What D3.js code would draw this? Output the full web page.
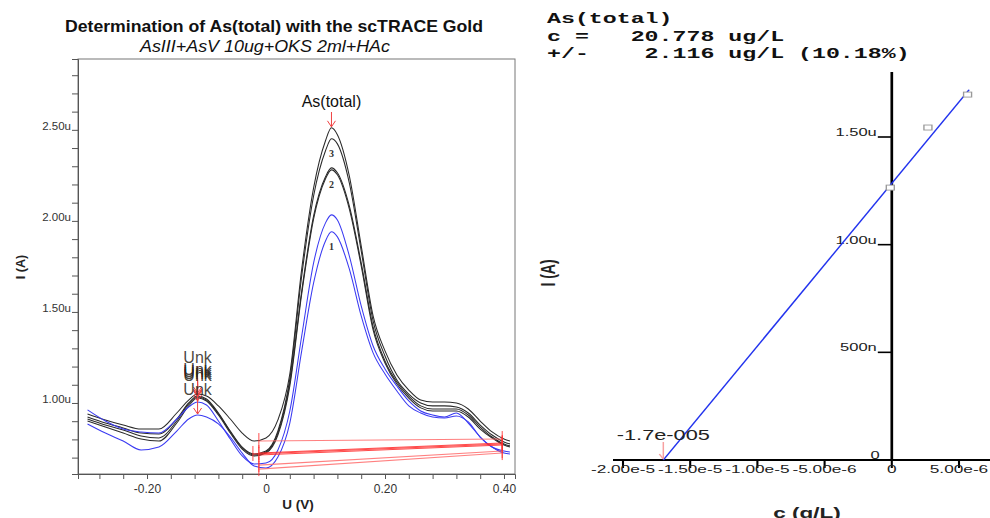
<!DOCTYPE html>
<html>
<head>
<meta charset="utf-8">
<script src="https://cdn.jsdelivr.net/npm/d3@7"></script>
<style>
  body { margin: 0; background: #fff; }
  svg { display: block; font-family: "Liberation Sans", Arial, sans-serif; }
</style>
</head>
<body>
<svg id="chart" width="990" height="518"></svg>
<script>
// ---- voltammograms (U in V, I in uA) ----
const sweepU = [-0.30, -0.27, -0.24, -0.21, -0.18, -0.15, -0.13, -0.115, -0.10, -0.08, -0.06, -0.04,
  -0.02, 0.00, 0.02, 0.04, 0.06, 0.08, 0.10, 0.11, 0.12, 0.14, 0.16, 0.18, 0.20, 0.22, 0.24, 0.26,
  0.28, 0.30, 0.32, 0.34, 0.36, 0.38, 0.40, 0.41];

// 2nd addition (label 3)
const add2a = [0.940, 0.907, 0.879, 0.857, 0.857, 0.945, 1.016, 1.049, 1.038, 0.984, 0.912, 0.835,
  0.791, 0.808, 0.907, 1.159, 1.736, 2.181, 2.440, 2.511, 2.473, 2.247, 1.863, 1.478, 1.286, 1.154,
  1.071, 1.016, 1.005, 1.005, 1.000, 0.967, 0.901, 0.841, 0.802, 0.791];
const add2b = [0.923, 0.890, 0.863, 0.835, 0.830, 0.912, 1.000, 1.038, 1.022, 0.945, 0.846, 0.758,
  0.720, 0.736, 0.846, 1.132, 1.698, 2.137, 2.385, 2.451, 2.423, 2.209, 1.835, 1.451, 1.258, 1.126,
  1.049, 1.000, 0.984, 0.984, 0.978, 0.945, 0.879, 0.824, 0.786, 0.775];
// 1st addition (label 2)
const add1a = [0.912, 0.879, 0.852, 0.819, 0.808, 0.901, 0.995, 1.033, 1.016, 0.940, 0.841, 0.753,
  0.714, 0.731, 0.835, 1.110, 1.615, 2.027, 2.242, 2.291, 2.264, 2.082, 1.769, 1.418, 1.231, 1.115,
  1.038, 0.984, 0.967, 0.967, 0.967, 0.934, 0.868, 0.813, 0.775, 0.764];
const add1b = [0.901, 0.868, 0.835, 0.802, 0.791, 0.890, 0.984, 1.027, 1.011, 0.934, 0.835, 0.747,
  0.709, 0.725, 0.824, 1.093, 1.599, 2.011, 2.231, 2.280, 2.253, 2.066, 1.753, 1.401, 1.220, 1.104,
  1.027, 0.973, 0.956, 0.956, 0.956, 0.923, 0.857, 0.808, 0.769, 0.758];
// sample (label 1)
const sampleA = [0.962, 0.901, 0.857, 0.841, 0.835, 0.912, 0.978, 1.005, 0.989, 0.901, 0.802, 0.709,
  0.665, 0.670, 0.742, 0.956, 1.368, 1.769, 1.989, 2.033, 2.005, 1.808, 1.533, 1.313, 1.187, 1.093,
  1.011, 0.956, 0.934, 0.923, 0.945, 0.890, 0.813, 0.758, 0.736, 0.731];
const sampleB = [0.885, 0.835, 0.791, 0.742, 0.758, 0.846, 0.912, 0.934, 0.923, 0.885, 0.813, 0.725,
  0.654, 0.643, 0.703, 0.890, 1.286, 1.659, 1.890, 1.940, 1.912, 1.736, 1.478, 1.275, 1.159, 1.066,
  0.984, 0.945, 0.923, 0.918, 0.929, 0.896, 0.813, 0.758, 0.725, 0.720];

// peak baselines (start U, start I, end U, end I), same order as the scans
const baseStartU = [-0.012, -0.012, -0.022, -0.012, -0.012, -0.012];
const baseStartI = [0.791, 0.725, 0.720, 0.714, 0.659, 0.637];
const baseEndU = [0.397, 0.397, 0.397, 0.397, 0.397, 0.397];
const baseEndI = [0.802, 0.780, 0.775, 0.769, 0.736, 0.725];

const unkU = -0.115, peakU = 0.11;
const yTickLabels = [1.0, 1.5, 2.0, 2.5];
const xTickLabels = [-0.2, 0, 0.2, 0.4];

// ---- calibration (standard addition) ----
const calConc = [0, 2.8e-6, 5.75e-6];          // g/L
const calCurrent = [1.265, 1.544, 1.697];       // uA
const fitIntercept = 1.285;                     // uA at c = 0
const xIntercept = -1.7e-5;                     // g/L
const resultLines = ["As(total)", "c =   20.778 ug/L", "+/-    2.116 ug/L (10.18%)"];
const calXTicks = [-2e-5, -1.5e-5, -1e-5, -5e-6, 0, 5e-6];
const calXLabels = ["-2.00e-5", "-1.50e-5", "-1.00e-5", "-5.00e-6", "0", "5.00e-6"];
const calYTicks = [0.5, 1.0, 1.5];
const calYLabels = ["500n", "1.00u", "1.50u"];

const scans = [add2a, add2b, add1a, add1b, sampleA, sampleB];
const scanColor = ["#2a2a2a", "#2a2a2a", "#2a2a2a", "#2a2a2a", "#3a3af2", "#3a3af2"];
const baseColor = ["#ff6a6a", "#ff2a2a", "#ff2a2a", "#ff2a2a", "#ff6a6a", "#ff6a6a"];
const unkLabelOffset = [31, 21, 20, 19, 21, 20];

const svg = d3.select("#chart");
const fmt = d => d === 0 ? "0" : (d < 0 ? "-" : "") + Math.abs(d).toFixed(2);

// ================= left panel =================
const xL = d3.scaleLinear().domain([-0.316, 0.4185]).range([78, 515]);
const yL = d3.scaleLinear().domain([0.61, 2.889]).range([474, 59]);

svg.append("text")
  .attr("x", 274).attr("y", 32)
  .attr("text-anchor", "middle")
  .attr("font-weight", "bold").attr("font-size", 16.5)
  .attr("textLength", 418).attr("lengthAdjust", "spacingAndGlyphs")
  .attr("fill", "#111")
  .text("Determination of As(total) with the scTRACE Gold");

svg.append("text")
  .attr("x", 265).attr("y", 52)
  .attr("text-anchor", "middle")
  .attr("font-style", "italic").attr("font-size", 16)
  .attr("textLength", 250).attr("lengthAdjust", "spacingAndGlyphs")
  .attr("fill", "#111")
  .text("AsIII+AsV 10ug+OKS 2ml+HAc");

svg.append("rect")
  .attr("x", 78).attr("y", 59).attr("width", 437).attr("height", 415)
  .attr("fill", "none").attr("stroke", "#777");

// y axis
const yAxisL = d3.axisLeft(yL)
  .tickValues(d3.range(7, 29).map(v => v / 10))
  .tickSize(6)
  .tickFormat(d => yTickLabels.some(t => Math.abs(t - d) < 1e-6) ? d.toFixed(2) + "u" : "");
const gy = svg.append("g").attr("transform", "translate(78,0)").call(yAxisL);
gy.select(".domain").attr("stroke", "#555");
gy.selectAll(".tick line").attr("stroke", "#555");
gy.selectAll(".tick text")
  .attr("x", -7).attr("dy", "-0.05em")
  .attr("font-size", 11.5).attr("fill", "#333")
  .attr("font-family", '"Liberation Sans", Arial, sans-serif');

// x axis
const xAxisL = d3.axisBottom(xL)
  .tickValues(d3.range(-7, 11).map(v => v * 0.04))
  .tickSize(5)
  .tickFormat(d => xTickLabels.some(t => Math.abs(t - d) < 1e-6) ? fmt(Math.round(d * 100) / 100) : "");
const gx = svg.append("g").attr("transform", "translate(0,474)").call(xAxisL);
gx.select(".domain").attr("stroke", "#555");
gx.selectAll(".tick line").attr("stroke", "#555");
gx.selectAll(".tick text")
  .attr("y", 10).attr("dy", "0.71em")
  .attr("font-size", 12).attr("fill", "#333")
  .attr("font-family", '"Liberation Sans", Arial, sans-serif');

svg.append("text")
  .attr("x", 298).attr("y", 509)
  .attr("text-anchor", "middle")
  .attr("font-weight", "bold").attr("font-size", 13.5).attr("fill", "#222")
  .text("U (V)");

svg.append("text")
  .attr("transform", "translate(25,267) rotate(-90)")
  .attr("text-anchor", "middle")
  .attr("font-weight", "bold").attr("font-size", 12.5).attr("fill", "#222")
  .text("I (A)");

// scans
const scanLine = d3.line()
  .x((d, i) => xL(sweepU[i]))
  .y(d => yL(d))
  .curve(d3.curveMonotoneX);

svg.append("g").selectAll("path")
  .data(scans)
  .join("path")
  .attr("d", scanLine)
  .attr("fill", "none")
  .attr("stroke", (d, i) => scanColor[i])
  .attr("stroke-width", 1.05);

// baselines + markers
const gb = svg.append("g");
scans.forEach((s, i) => {
  gb.append("line")
    .attr("x1", xL(baseStartU[i])).attr("y1", yL(baseStartI[i]))
    .attr("x2", xL(baseEndU[i])).attr("y2", yL(baseEndI[i]))
    .attr("stroke", baseColor[i]).attr("stroke-opacity", 0.85).attr("stroke-width", 1.1);
  [[baseStartU[i], baseStartI[i]], [baseEndU[i], baseEndI[i]]].forEach(([u, v]) => {
    gb.append("line")
      .attr("x1", xL(u)).attr("x2", xL(u))
      .attr("y1", yL(v) - 8).attr("y2", yL(v) + 7)
      .attr("stroke", "#ff3030").attr("stroke-opacity", 0.85);
  });
});

function arrow(g, x, y1, y2, color, hw) {
  g.append("line").attr("x1", x).attr("x2", x).attr("y1", y1).attr("y2", y2)
    .attr("stroke", color).attr("stroke-width", 1);
  g.append("path")
    .attr("d", `M${x - hw},${y2 - 6}L${x},${y2}L${x + hw},${y2 - 6}`)
    .attr("fill", "none").attr("stroke", color).attr("stroke-width", 1);
}

// Unk peak labels
const iUnk = sweepU.indexOf(unkU);
const gm = svg.append("g");
scans.forEach((s, i) => {
  const px = xL(unkU), py = yL(s[iUnk]);
  arrow(gm, px, py - unkLabelOffset[i] + 3, py - 1, "#f04040", 4);
});
scans.forEach((s, i) => {
  const px = xL(unkU), py = yL(s[iUnk]);
  gm.append("text")
    .attr("x", px).attr("y", py - unkLabelOffset[i])
    .attr("text-anchor", "middle")
    .attr("font-size", 16).attr("fill", "#2b2620").attr("fill-opacity", 0.85)
    .text("Unk");
});

// As(total) label on highest scan
const iPk = sweepU.indexOf(peakU);
arrow(gm, xL(peakU), 112, yL(add2a[iPk]) - 1, "#f04040", 4);
gm.append("text")
  .attr("x", xL(peakU)).attr("y", 107)
  .attr("text-anchor", "middle")
  .attr("font-size", 16).attr("fill", "#111")
  .text("As(total)");

// scan numbers
[["3", add2b], ["2", add1b], ["1", sampleB]].forEach(([t, s]) => {
  gm.append("text")
    .attr("x", xL(peakU)).attr("y", yL(s[iPk]) + 18)
    .attr("text-anchor", "middle")
    .attr("font-family", '"Liberation Serif", "Times New Roman", serif')
    .attr("font-weight", "bold").attr("font-size", 10).attr("fill", "#333")
    .text(t);
});

// ================= right panel (stretched horizontally) =================
const SX = 1.5;
const gR = svg.append("g").attr("transform", `scale(${SX},1)`);
const xR = d3.scaleLinear().domain([-2e-5, 5e-6]).range([623 / SX, 959 / SX]);
const yR = d3.scaleLinear().domain([0, 1.5]).range([460, 137]);

gR.append("g").selectAll("text")
  .data(resultLines)
  .join("text")
  .attr("x", 547 / SX)
  .attr("y", (d, i) => [23, 41, 58][i])
  .attr("font-family", '"Liberation Mono", "Courier New", monospace')
  .attr("font-weight", "bold").attr("font-size", 15.5).attr("fill", "#111")
  .style("white-space", "pre")
  .text(d => d);

// axes
gR.append("line")
  .attr("x1", 613 / SX).attr("x2", 990 / SX)
  .attr("y1", yR(0)).attr("y2", yR(0))
  .attr("stroke", "#000").attr("stroke-width", 2);
gR.append("line")
  .attr("x1", xR(0)).attr("x2", xR(0))
  .attr("y1", yR(1.802)).attr("y2", yR(0))
  .attr("stroke", "#000").attr("stroke-width", 1.8);

gR.append("g").selectAll("line")
  .data(calXTicks)
  .join("line")
  .attr("x1", d => xR(d)).attr("x2", d => xR(d))
  .attr("y1", yR(0)).attr("y2", yR(0) + 8)
  .attr("stroke", "#000").attr("stroke-width", 1.4);
gR.append("g").selectAll("text")
  .data(calXTicks)
  .join("text")
  .attr("x", d => xR(d)).attr("y", 473)
  .attr("text-anchor", "middle")
  .attr("font-size", 11.5).attr("fill", "#222")
  .text((d, i) => calXLabels[i]);

gR.append("g").selectAll("line")
  .data(calYTicks)
  .join("line")
  .attr("x1", xR(0) - 14 / SX).attr("x2", xR(0))
  .attr("y1", d => yR(d)).attr("y2", d => yR(d))
  .attr("stroke", "#000").attr("stroke-width", 1.6);
gR.append("g").selectAll("text")
  .data(calYTicks)
  .join("text")
  .attr("x", xR(0) - 15 / SX).attr("y", d => yR(d) - 1)
  .attr("text-anchor", "end")
  .attr("font-size", 11).attr("fill", "#222")
  .text((d, i) => calYLabels[i]);
gR.append("text")
  .attr("x", xR(0) - 12 / SX).attr("y", yR(0) - 1)
  .attr("text-anchor", "end")
  .attr("font-size", 11).attr("fill", "#222")
  .text("0");

gR.append("text")
  .attr("x", 807 / SX).attr("y", 518)
  .attr("text-anchor", "middle")
  .attr("font-weight", "bold").attr("font-size", 15).attr("fill", "#222")
  .text("c (g/L)");
gR.append("text")
  .attr("transform", `translate(${555 / SX},273) rotate(-90)`)
  .attr("text-anchor", "middle")
  .attr("font-weight", "bold").attr("font-size", 14).attr("fill", "#222")
  .text("I (A)");

// regression line
const cMax = d3.max(calConc);
gR.append("line")
  .attr("x1", xR(xIntercept)).attr("y1", yR(0))
  .attr("x2", xR(cMax)).attr("y2", yR(fitIntercept * (1 - cMax / xIntercept)))
  .attr("stroke", "#2233ee").attr("stroke-width", 1.1);

// standards
gR.append("g").selectAll("rect")
  .data(calConc)
  .join("rect")
  .attr("x", d => xR(d) - 5.5 / SX)
  .attr("y", (d, i) => yR(calCurrent[i]) - 2.5)
  .attr("width", 8 / SX).attr("height", 5)
  .attr("fill", "#fff").attr("stroke", "#999").attr("stroke-width", 0.9);

// x-intercept marker
const gi = gR.append("g");
gi.append("line")
  .attr("x1", xR(xIntercept)).attr("x2", xR(xIntercept))
  .attr("y1", yR(0) - 18).attr("y2", yR(0) - 1)
  .attr("stroke", "#f7a0a0").attr("stroke-width", 1);
gi.append("path")
  .attr("d", `M${xR(xIntercept) - 4 / SX},${yR(0) - 6}L${xR(xIntercept)},${yR(0) - 1}`)
  .attr("fill", "none").attr("stroke", "#f7a0a0");
gi.append("text")
  .attr("x", xR(xIntercept)).attr("y", 440)
  .attr("text-anchor", "middle")
  .attr("font-size", 14.5).attr("fill", "#222")
  .text("-1.7e-005");
</script>
</body>
</html>
